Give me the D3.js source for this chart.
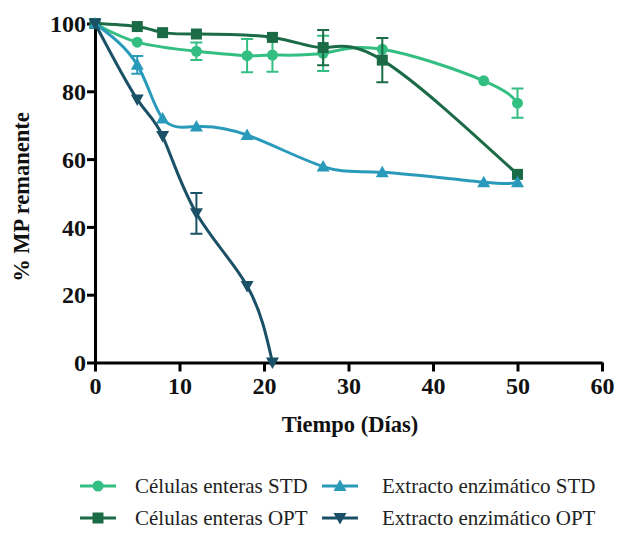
<!DOCTYPE html>
<html>
<head>
<meta charset="utf-8">
<script src="https://cdn.jsdelivr.net/npm/d3@7"></script>
<style>
  html, body { margin: 0; padding: 0; background: #fff; }
  svg { display: block; }
</style>
</head>
<body>
<svg id="chart" width="617" height="533"></svg>
<script>
// Sampling days and remaining MP (%) for each preparation
const celulasStdDays = [0, 5, 12, 18, 21, 27, 34, 46, 50];
const celulasStdValues = [100, 94.5, 91.8, 90.5, 90.7, 91.2, 92.4, 83.1, 76.5];
const celulasStdErr = [0, 0, 2.6, 4.9, 4.9, 5.2, 0, 0, 4.3];

const celulasOptDays = [0, 5, 8, 12, 21, 27, 34, 50];
const celulasOptValues = [100, 99.1, 97.3, 96.9, 95.9, 92.9, 89.2, 55.5];
const celulasOptErr = [0, 0, 0, 0, 0, 5.2, 6.5, 0];

const extractoStdDays = [0, 5, 8, 12, 18, 27, 34, 46, 50];
const extractoStdValues = [100, 87.8, 72.0, 69.6, 67.1, 57.8, 56.1, 53.2, 53.2];
const extractoStdErr = [0, 2.6, 0, 0, 0, 0, 0, 0, 0];

const extractoOptDays = [0, 5, 8, 12, 18, 21];
const extractoOptValues = [100, 77.6, 66.8, 44.0, 22.6, 0];
const extractoOptErr = [0, 0, 0, 6.0, 0, 0];

const xTicks = [0, 10, 20, 30, 40, 50, 60];
const yTicks = [0, 20, 40, 60, 80, 100];

const seriesLabels = ["Células enteras STD", "Células enteras OPT", "Extracto enzimático STD", "Extracto enzimático OPT"];
const seriesColors = ["#33bf82", "#1b6b46", "#2a9aba", "#1b5167"];

const series = [
  { name: seriesLabels[0], days: celulasStdDays, values: celulasStdValues, err: celulasStdErr, color: seriesColors[0], symbol: "circle" },
  { name: seriesLabels[1], days: celulasOptDays, values: celulasOptValues, err: celulasOptErr, color: seriesColors[1], symbol: "square" },
  { name: seriesLabels[2], days: extractoStdDays, values: extractoStdValues, err: extractoStdErr, color: seriesColors[2], symbol: "triUp" },
  { name: seriesLabels[3], days: extractoOptDays, values: extractoOptValues, err: extractoOptErr, color: seriesColors[3], symbol: "triDown" }
];

const svg = d3.select("#chart");
const serif = "'Liberation Serif', 'DejaVu Serif', serif";

const x = d3.scaleLinear().domain([0, 60]).range([95, 602]);
const y = d3.scaleLinear().domain([0, 100]).range([362.5, 23.5]);

// Axes
const xAxis = svg.append("g")
  .attr("transform", `translate(0,${y(0)})`)
  .call(d3.axisBottom(x).tickValues(xTicks).tickSize(9).tickPadding(5).tickSizeOuter(0));
const yAxis = svg.append("g")
  .attr("transform", `translate(${x(0)},0)`)
  .call(d3.axisLeft(y).tickValues(yTicks).tickSize(8).tickPadding(1).tickSizeOuter(0));

[xAxis, yAxis].forEach(g => {
  g.select(".domain").attr("stroke", "#000").attr("stroke-width", 3);
  g.selectAll(".tick line").attr("stroke", "#000").attr("stroke-width", 3);
  g.selectAll(".tick text")
    .attr("fill", "#111")
    .style("font-family", serif)
    .style("font-weight", "bold")
    .style("font-size", "24px");
});
yAxis.selectAll(".tick text").attr("dy", "0.34em");

// Axis titles
svg.append("text")
  .attr("x", 350).attr("y", 432)
  .attr("text-anchor", "middle")
  .style("font-family", serif).style("font-weight", "bold").style("font-size", "22.5px")
  .attr("fill", "#111")
  .text("Tiempo (Días)");

svg.append("text")
  .attr("transform", "translate(29,197) rotate(-90)")
  .attr("text-anchor", "middle")
  .style("font-family", serif).style("font-weight", "bold").style("font-size", "22.5px")
  .attr("fill", "#111")
  .text("% MP remanente");

const line = d3.line()
  .x(d => x(d.day))
  .y(d => y(d.value))
  .curve(d3.curveNatural);

function drawMarker(g, symbol, cx, cy, color) {
  if (symbol === "circle") {
    g.append("circle").attr("cx", cx).attr("cy", cy).attr("r", 5.5).attr("fill", color);
  } else if (symbol === "square") {
    g.append("rect").attr("x", cx - 5.5).attr("y", cy - 5.5).attr("width", 11).attr("height", 11).attr("fill", color);
  } else if (symbol === "triUp") {
    g.append("path").attr("d", `M${cx},${cy - 6.5}L${cx + 6.5},${cy + 5}L${cx - 6.5},${cy + 5}Z`).attr("fill", color);
  } else {
    g.append("path").attr("d", `M${cx},${cy + 6.5}L${cx + 6.5},${cy - 5}L${cx - 6.5},${cy - 5}Z`).attr("fill", color);
  }
}

const plot = svg.append("g");
series.forEach(s => {
  const pts = s.days.map((d, i) => ({ day: d, value: s.values[i], err: s.err[i] }));
  const g = plot.append("g");
  g.append("path").datum(pts)
    .attr("d", line)
    .attr("fill", "none")
    .attr("stroke", s.color)
    .attr("stroke-width", 3);
  // error bars
  pts.filter(p => p.err > 0).forEach(p => {
    const cx = x(p.day), y1 = y(p.value + p.err), y2 = y(p.value - p.err);
    g.append("path")
      .attr("d", `M${cx},${y1}V${y2}M${cx - 6},${y1}H${cx + 6}M${cx - 6},${y2}H${cx + 6}`)
      .attr("stroke", s.color).attr("stroke-width", 2).attr("fill", "none");
  });
  pts.forEach(p => drawMarker(g, s.symbol, x(p.day), y(p.value), s.color));
});

// Legend
const legendPos = [[80, 486, 135], [80, 518, 135], [322, 486, 382], [322, 518, 382]];
series.forEach((s, i) => {
  const [lx, ly, tx] = legendPos[i];
  const g = svg.append("g");
  g.append("line").attr("x1", lx).attr("x2", lx + 36).attr("y1", ly).attr("y2", ly)
    .attr("stroke", s.color).attr("stroke-width", 3);
  drawMarker(g, s.symbol, lx + 18, ly, s.color);
  g.append("text")
    .attr("x", tx).attr("y", ly).attr("dy", "0.35em")
    .style("font-family", serif).style("font-size", "21px")
    .attr("fill", "#222")
    .text(s.name);
});
</script>
</body>
</html>
